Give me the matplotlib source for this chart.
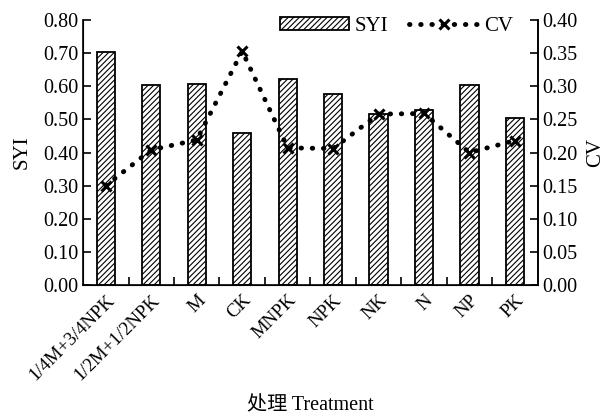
import matplotlib
matplotlib.use("Agg")
import matplotlib.pyplot as plt
import numpy as np

plt.rcParams['font.family'] = ['Liberation Serif', 'Noto Sans CJK SC']
plt.rcParams['hatch.linewidth'] = 0.8

treatments = ["1/4M+3/4NPK", "1/2M+1/2NPK", "M", "CK", "MNPK", "NPK", "NK", "N", "NP", "PK"]
syi = [0.705, 0.603, 0.607, 0.460, 0.623, 0.576, 0.515, 0.528, 0.603, 0.503]
cv = [0.150, 0.204, 0.219, 0.353, 0.207, 0.206, 0.258, 0.259, 0.200, 0.218]
left_ticks = [0.0, 0.1, 0.2, 0.3, 0.4, 0.5, 0.6, 0.7, 0.8]
right_ticks = [0.0, 0.05, 0.10, 0.15, 0.20, 0.25, 0.30, 0.35, 0.40]

fig = plt.figure(figsize=(6.11, 4.19), dpi=100)
ax = fig.add_axes([0.136, 0.320, 0.744, 0.632])
x = np.arange(len(treatments))
bars = ax.bar(x, syi, width=0.4, color='white', edgecolor='black', hatch='//////', linewidth=1.3, label='SYI', zorder=2)
ax.set_xlim(-0.5, len(treatments) - 0.5)
ax.set_ylim(0, 0.8)
ax.set_yticks(left_ticks)
ax.set_yticklabels([f"{v:.2f}" for v in left_ticks])
ax.set_xticks(x)
ax.set_xticklabels(treatments, rotation=45, ha='right', rotation_mode='anchor')
ax.set_xticks(np.arange(len(treatments) - 1) + 0.5, minor=True)
ax.tick_params(axis='x', which='major', length=0, labelsize=13.5, pad=5)
ax.tick_params(axis='x', which='minor', direction='in', length=6, width=1.2)
ax.tick_params(axis='y', direction='in', length=6, width=1.2, labelsize=14.5)
ax.spines['top'].set_visible(False)
for s in ['left', 'bottom', 'right']:
    ax.spines[s].set_linewidth(1.2)
ax.set_ylabel('SYI', fontsize=15, labelpad=8)
ax.set_xlabel('处理 Treatment', fontsize=14.5, labelpad=9)

ax2 = ax.twinx()
ax2.set_ylim(0, 0.4)
ax2.set_yticks(right_ticks)
ax2.set_yticklabels([f"{v:.2f}" for v in right_ticks])
ax2.tick_params(axis='y', direction='in', length=6, width=1.2, labelsize=14.5)
ax2.spines['top'].set_visible(False)
ax2.spines['right'].set_linewidth(1.2)
line, = ax2.plot(x, cv, linestyle=(0, (0.1, 2.2)), dash_capstyle='round', linewidth=3.5, color='black',
                 marker='x', markersize=7, markeredgewidth=2.2, label='CV', zorder=3)
ax2.set_ylabel('CV', fontsize=15, labelpad=6)

ax2.legend([bars, line], ['SYI', 'CV'], loc='upper right', bbox_to_anchor=(0.965, 1.045), ncol=2,
           frameon=False, fontsize=15, handlelength=3.3, handleheight=0.6, columnspacing=1.0,
           handletextpad=0.3, borderaxespad=0)

fig.savefig('out.png', dpi=100)
